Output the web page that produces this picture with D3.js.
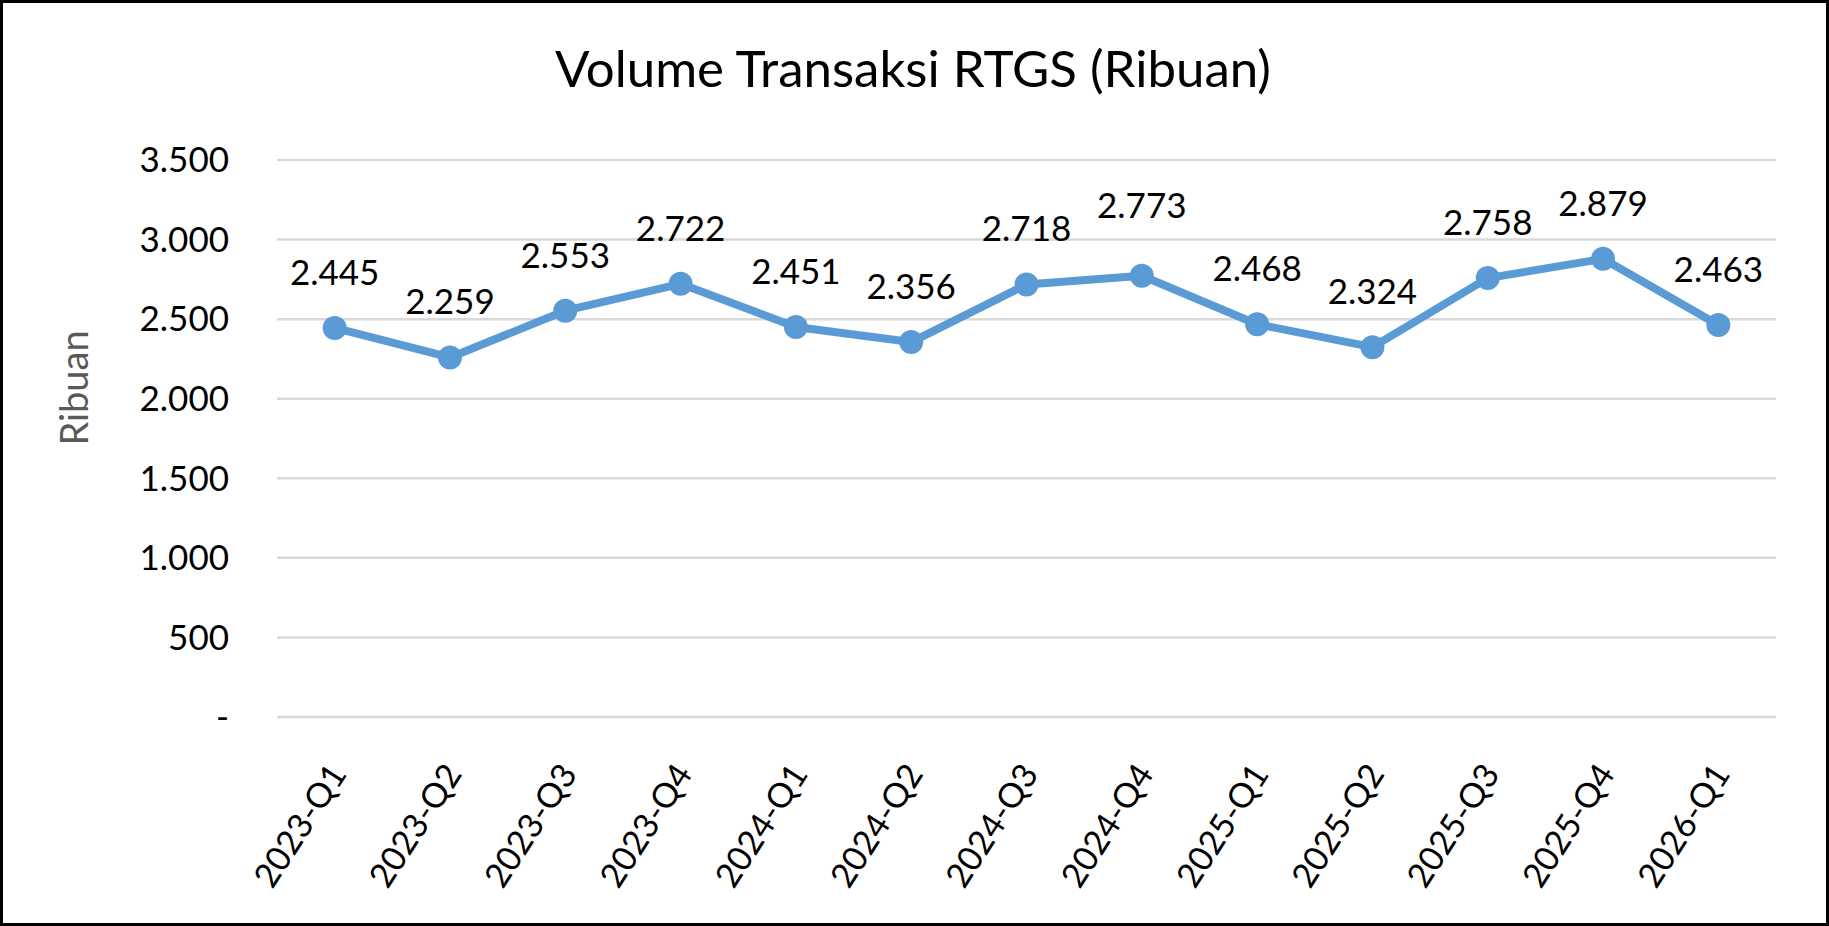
<!DOCTYPE html>
<html lang="id">
<head>
    <meta charset="UTF-8">
    <title>Volume Transaksi RTGS (Ribuan)</title>
    <script src="https://d3js.org/d3.v7.min.js"></script>
    <style>
        body {
            margin: 0;
            background: #fff;
            font-family: Lato, "Noto Sans", sans-serif;
        }
        .grid line {
            stroke: #d9d9d9;
            stroke-width: 2.5;
        }
        .tick-label, .data-label {
            font-size: 35px;
            fill: #000;
        }
        .x-label {
            font-size: 34px;
            fill: #000;
        }
        .axis-title {
            font-size: 38px;
            fill: #595959;
        }
        .title {
            font-size: 51px;
            fill: #000;
        }
    </style>
</head>
<body>
    <div id="chart"></div>

    <script>
        // Chart data
        const quarters = ["2023-Q1", "2023-Q2", "2023-Q3", "2023-Q4", "2024-Q1", "2024-Q2", "2024-Q3",
                          "2024-Q4", "2025-Q1", "2025-Q2", "2025-Q3", "2025-Q4", "2026-Q1"];
        const volumes = [2445, 2259, 2553, 2722, 2451, 2356, 2718, 2773, 2468, 2324, 2758, 2879, 2463];
        const yTicks = [0, 500, 1000, 1500, 2000, 2500, 3000, 3500];

        const W = 1829, H = 926;
        const margin = { top: 160, right: 53, bottom: 209, left: 277 };
        const width = W - margin.left - margin.right,
              height = H - margin.top - margin.bottom;

        // Indonesian number format: dot as thousands separator
        const locale = d3.formatLocale({ decimal: ",", thousands: ".", grouping: [3], currency: ["Rp", ""] });
        const fmt = v => v === 0 ? "-" : locale.format(",d")(v);

        const svg = d3.select("#chart").append("svg")
            .attr("width", W)
            .attr("height", H);

        svg.append("rect")
            .attr("x", 1.5).attr("y", 1.5)
            .attr("width", W - 3).attr("height", H - 3)
            .attr("fill", "#fff")
            .attr("stroke", "#000")
            .attr("stroke-width", 3);

        const g = svg.append("g")
            .attr("transform", `translate(${margin.left},${margin.top})`);

        const xScale = d3.scalePoint()
            .domain(quarters)
            .range([0, width])
            .padding(0.5);

        const yScale = d3.scaleLinear()
            .domain([0, 3500])
            .range([height, 0]);

        // Gridlines
        g.append("g")
            .attr("class", "grid")
            .selectAll("line")
            .data(yTicks)
            .enter().append("line")
            .attr("x1", 0)
            .attr("x2", width)
            .attr("y1", d => yScale(d))
            .attr("y2", d => yScale(d));

        // Y-axis labels
        g.append("g")
            .selectAll("text")
            .data(yTicks)
            .enter().append("text")
            .attr("class", "tick-label")
            .attr("x", -48)
            .attr("y", d => yScale(d))
            .attr("dy", "0.35em")
            .attr("text-anchor", "end")
            .text(fmt);

        // X-axis labels, rotated
        g.append("g")
            .selectAll("text")
            .data(quarters)
            .enter().append("text")
            .attr("class", "x-label")
            .attr("text-anchor", "end")
            .attr("transform", d => `translate(${xScale(d) + 13},${height + 57}) rotate(-57)`)
            .text(d => d);

        // Line
        const line = d3.line()
            .x((d, i) => xScale(quarters[i]))
            .y(d => yScale(d));

        g.append("path")
            .datum(volumes)
            .attr("fill", "none")
            .attr("stroke", "#5b9bd5")
            .attr("stroke-width", 8)
            .attr("stroke-linejoin", "round")
            .attr("d", line);

        // Markers
        g.selectAll(".dot")
            .data(volumes)
            .enter().append("circle")
            .attr("class", "dot")
            .attr("cx", (d, i) => xScale(quarters[i]))
            .attr("cy", d => yScale(d))
            .attr("r", 12)
            .attr("fill", "#5b9bd5");

        // Data labels (2024-Q4 label sits a bit higher in the original)
        g.selectAll(".data-label")
            .data(volumes)
            .enter().append("text")
            .attr("class", "data-label")
            .attr("x", (d, i) => xScale(quarters[i]))
            .attr("y", (d, i) => yScale(d) - (quarters[i] === "2024-Q4" ? 58 : 43))
            .attr("text-anchor", "middle")
            .text(fmt);

        // Axis title
        svg.append("text")
            .attr("class", "axis-title")
            .attr("transform", "translate(88,388) rotate(-90)")
            .attr("text-anchor", "middle")
            .text("Ribuan");

        // Chart title
        svg.append("text")
            .attr("class", "title")
            .attr("x", 913)
            .attr("y", 87)
            .attr("text-anchor", "middle")
            .text("Volume Transaksi RTGS (Ribuan)");
    </script>
</body>
</html>
